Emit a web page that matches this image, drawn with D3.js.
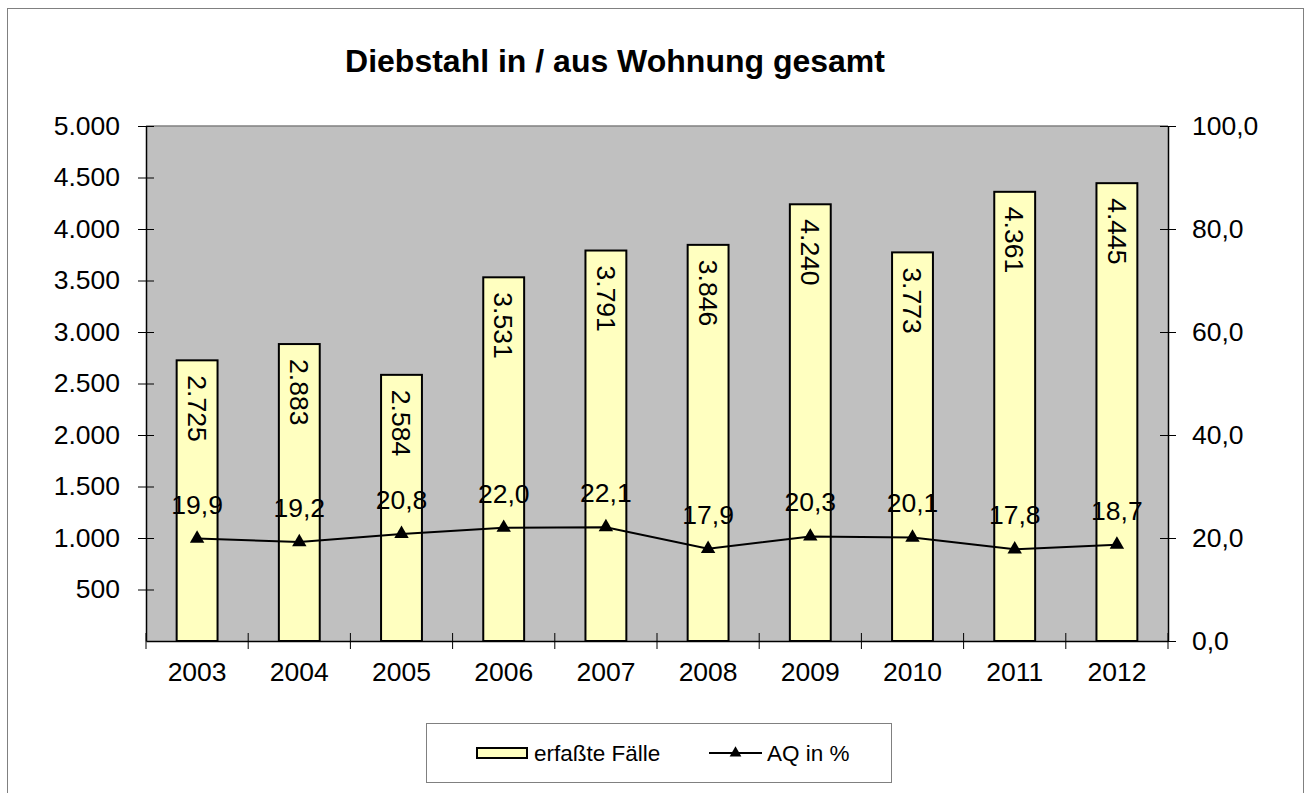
<!DOCTYPE html>
<html>
<head>
<meta charset="utf-8">
<script src="https://cdn.jsdelivr.net/npm/d3@7"></script>
<style>
  body { margin: 0; background: #fff; }
  text { font-family: "Liberation Sans", Arial, sans-serif; fill: #000; }
</style>
</head>
<body>
<div id="content"></div>
<script>
var years = ["2003", "2004", "2005", "2006", "2007", "2008", "2009", "2010", "2011", "2012"];
var cases = [2725, 2883, 2584, 3531, 3791, 3846, 4240, 3773, 4361, 4445];
var aq = [19.9, 19.2, 20.8, 22.0, 22.1, 17.9, 20.3, 20.1, 17.8, 18.7];
var leftTicks = [500, 1000, 1500, 2000, 2500, 3000, 3500, 4000, 4500, 5000];
var rightTicks = [0, 20, 40, 60, 80, 100];

var W = 1306, H = 793;
var plot = { left: 146, right: 1168, top: 126, bottom: 641 };
var fs = "26.5px";

var svg = d3.select("#content").append("svg")
    .attr("width", W)
    .attr("height", H);

// outer frame
svg.append("rect")
    .attr("x", 7.5).attr("y", 8.5)
    .attr("width", 1296).attr("height", 800)
    .attr("fill", "#fff")
    .attr("stroke", "#808080")
    .attr("stroke-width", 1);

svg.append("text")
    .attr("x", 615)
    .attr("y", 72)
    .attr("text-anchor", "middle")
    .style("font-size", "32px")
    .style("font-weight", "bold")
    .text("Diebstahl in / aus Wohnung gesamt");

var x = d3.scaleBand()
    .domain(years)
    .range([plot.left, plot.right]);
var y = d3.scaleLinear()
    .domain([0, 5000])
    .range([plot.bottom, plot.top]);
var y2 = d3.scaleLinear()
    .domain([0, 100])
    .range([plot.bottom, plot.top]);

// plot area
svg.append("rect")
    .attr("x", plot.left).attr("y", plot.top)
    .attr("width", plot.right - plot.left)
    .attr("height", plot.bottom - plot.top)
    .attr("fill", "#c0c0c0");
svg.append("line")
    .attr("x1", plot.left).attr("x2", plot.right)
    .attr("y1", plot.top).attr("y2", plot.top)
    .attr("stroke", "#808080").attr("stroke-width", 1.5);

// bars
var barW = x.bandwidth() * 0.4;
svg.append("g").selectAll("rect")
    .data(cases)
    .join("rect")
    .attr("x", (d, i) => x(years[i]) + (x.bandwidth() - barW) / 2)
    .attr("y", d => y(d))
    .attr("width", barW)
    .attr("height", d => y(0) - y(d))
    .attr("fill", "#ffffc0")
    .attr("stroke", "#000")
    .attr("stroke-width", 2);

var loc = d3.formatLocale({ decimal: ",", thousands: ".", grouping: [3], currency: ["", ""] });
var fmtInt = loc.format(",d");
var fmtDec = loc.format(".1f");

// bar labels (rotated)
svg.append("g").selectAll("text")
    .data(cases)
    .join("text")
    .attr("transform", (d, i) => "translate(" + (x(years[i]) + x.bandwidth() / 2) + "," + (y(d) + 15) + ") rotate(90)")
    .attr("dy", "0.35em")
    .style("font-size", fs)
    .text(d => fmtInt(d));

// axes
var axL = svg.append("g")
    .attr("transform", "translate(" + plot.left + ",0)")
    .call(d3.axisLeft(y).tickValues(leftTicks).tickFormat(fmtInt).tickSizeInner(8).tickSizeOuter(0).tickPadding(18));
axL.selectAll(".tick line").attr("x2", 8).attr("x1", -8);
axL.select(".domain").attr("stroke-width", 1.5);
axL.selectAll("text").style("font-size", fs).attr("font-family", null);

var axR = svg.append("g")
    .attr("transform", "translate(" + plot.right + ",0)")
    .call(d3.axisRight(y2).tickValues(rightTicks).tickFormat(fmtDec).tickSizeInner(8).tickSizeOuter(0).tickPadding(16));
axR.selectAll(".tick line").attr("x1", -8).attr("x2", 8);
axR.select(".domain").attr("stroke-width", 1.5);
axR.selectAll("text").style("font-size", fs).attr("font-family", null);

var axB = svg.append("g")
    .attr("transform", "translate(0," + plot.bottom + ")")
    .call(d3.axisBottom(x).tickSize(0).tickPadding(21));
axB.select(".domain").attr("stroke-width", 1.5);
axB.selectAll("text").style("font-size", fs).attr("font-family", null);
axB.selectAll(".bnd").data(years.concat([null]))
    .join("line")
    .attr("x1", (d, i) => plot.left + i * x.step())
    .attr("x2", (d, i) => plot.left + i * x.step())
    .attr("y1", -8).attr("y2", 8)
    .attr("stroke", "#000");

// line series
var line = d3.line()
    .x((d, i) => x(years[i]) + x.bandwidth() / 2)
    .y(d => y2(d));
svg.append("path")
    .datum(aq)
    .attr("d", line)
    .attr("fill", "none")
    .attr("stroke", "#000")
    .attr("stroke-width", 2);

var tri = d3.symbol().type(d3.symbolTriangle).size(90);
svg.append("g").selectAll("path")
    .data(aq)
    .join("path")
    .attr("transform", (d, i) => "translate(" + (x(years[i]) + x.bandwidth() / 2) + "," + y2(d) + ")")
    .attr("d", tri)
    .attr("fill", "#000");

svg.append("g").selectAll("text")
    .data(aq)
    .join("text")
    .attr("x", (d, i) => x(years[i]) + x.bandwidth() / 2)
    .attr("y", d => y2(d) - 25)
    .attr("text-anchor", "middle")
    .style("font-size", fs)
    .text(d => fmtDec(d));

// legend
var lg = svg.append("g");
lg.append("rect")
    .attr("x", 426.5).attr("y", 723.5)
    .attr("width", 465).attr("height", 59)
    .attr("fill", "#fff")
    .attr("stroke", "#808080");
lg.append("rect")
    .attr("x", 477).attr("y", 748)
    .attr("width", 50).attr("height", 10)
    .attr("fill", "#ffffc0")
    .attr("stroke", "#000")
    .attr("stroke-width", 2);
lg.append("text")
    .attr("x", 534).attr("y", 761)
    .style("font-size", "22.5px")
    .text("erfaßte Fälle");
lg.append("line")
    .attr("x1", 709).attr("x2", 762)
    .attr("y1", 753).attr("y2", 753)
    .attr("stroke", "#000").attr("stroke-width", 2);
lg.append("path")
    .attr("transform", "translate(735.5,753)")
    .attr("d", d3.symbol().type(d3.symbolTriangle).size(60))
    .attr("fill", "#000");
lg.append("text")
    .attr("x", 767).attr("y", 761)
    .style("font-size", "22.5px")
    .text("AQ in %");
</script>
</body>
</html>
